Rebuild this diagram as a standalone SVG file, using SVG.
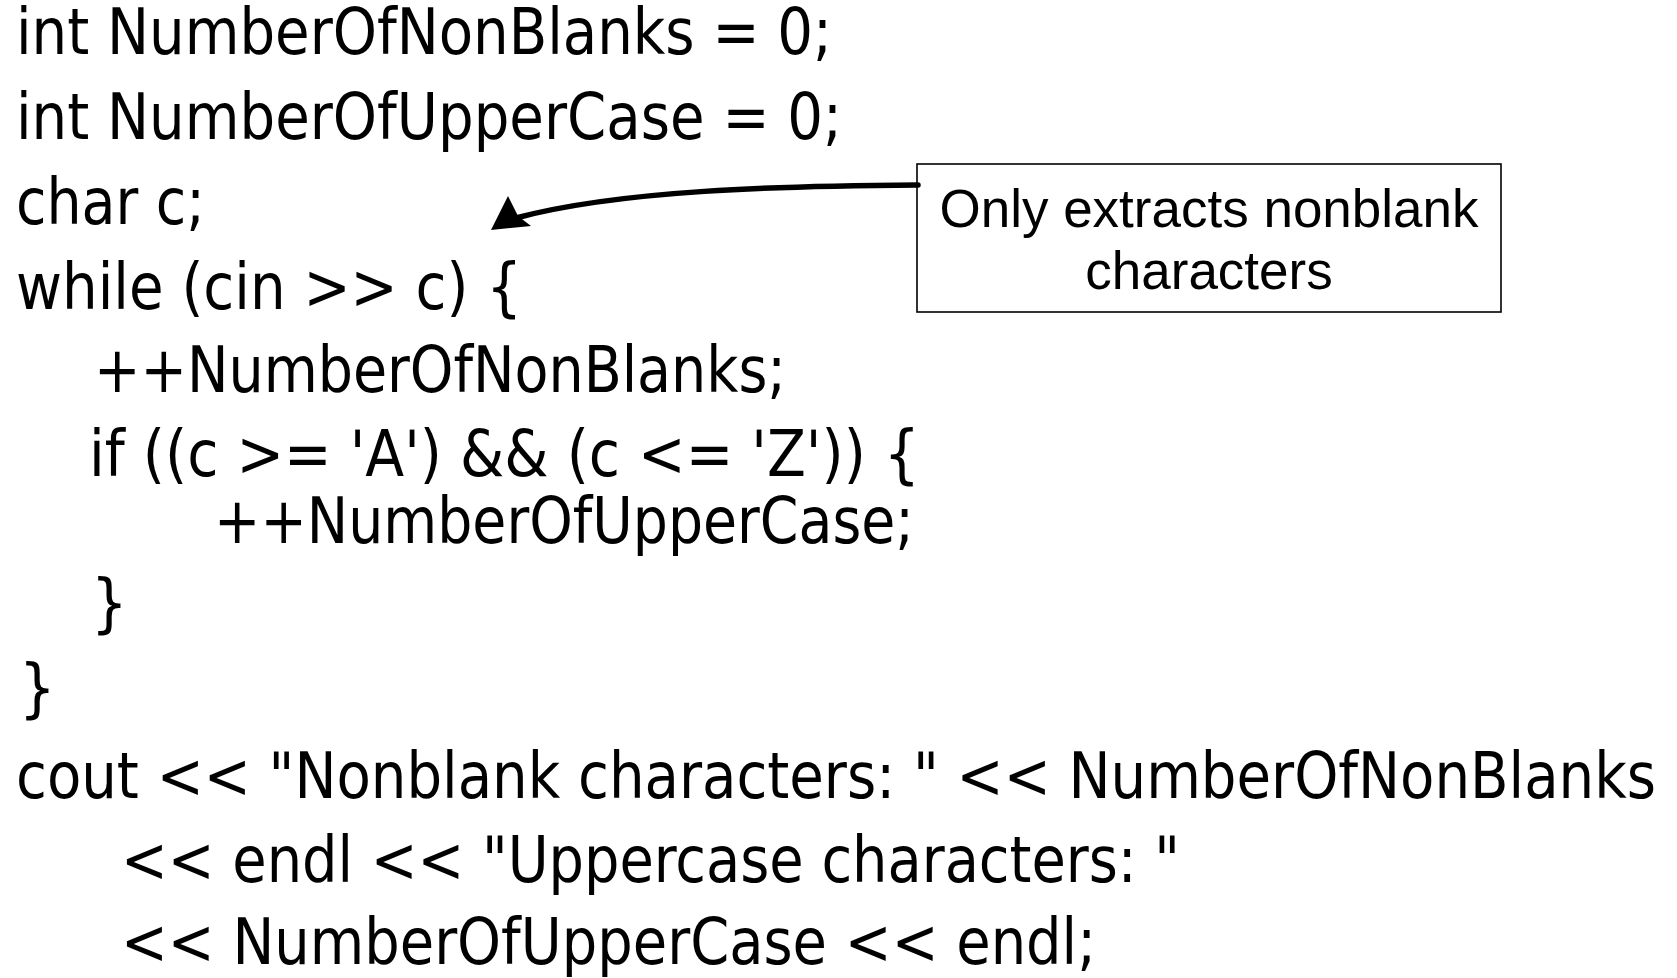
<svg xmlns="http://www.w3.org/2000/svg" width="1677" height="978" viewBox="0 0 1677 978">
<style>
.code{font-family:"DejaVu Sans Condensed","Liberation Sans",sans-serif;font-size:64px;fill:#000;}
.note{font-family:"Liberation Sans",Arial,sans-serif;font-size:53px;fill:#000;text-anchor:middle;}
.box{fill:#fff;stroke:#000;stroke-width:1.6;}
.shaft{fill:none;stroke:#000;stroke-width:5.5;stroke-linecap:round;}
</style>
<rect width="1677" height="978" fill="#fff"/>
<g id="code">
<text class="code" x="16" y="54" textLength="816" lengthAdjust="spacingAndGlyphs">int NumberOfNonBlanks = 0;</text>
<text class="code" x="16" y="139" textLength="826" lengthAdjust="spacingAndGlyphs">int NumberOfUpperCase = 0;</text>
<text class="code" x="16" y="224" textLength="189" lengthAdjust="spacingAndGlyphs">char c;</text>
<text class="code" x="16" y="309" textLength="506" lengthAdjust="spacingAndGlyphs">while (cin &gt;&gt; c) {</text>
<text class="code" x="94" y="392" textLength="692" lengthAdjust="spacingAndGlyphs">++NumberOfNonBlanks;</text>
<text class="code" x="89" y="476" textLength="831" lengthAdjust="spacingAndGlyphs">if ((c &gt;= 'A') &amp;&amp; (c &lt;= 'Z')) {</text>
<text class="code" x="214" y="543" textLength="700" lengthAdjust="spacingAndGlyphs">++NumberOfUpperCase;</text>
<text class="code" x="91" y="625">}</text>
<text class="code" x="19" y="710">}</text>
<text class="code" x="16" y="798" textLength="1640" lengthAdjust="spacingAndGlyphs">cout &lt;&lt; "Nonblank characters: " &lt;&lt; NumberOfNonBlanks</text>
<text class="code" x="121" y="882" textLength="1059" lengthAdjust="spacingAndGlyphs">&lt;&lt; endl &lt;&lt; "Uppercase characters: "</text>
<text class="code" x="121" y="964" textLength="975" lengthAdjust="spacingAndGlyphs">&lt;&lt; NumberOfUpperCase &lt;&lt; endl;</text>
</g>
<g id="note">
<rect class="box" x="917" y="164" width="584" height="148"/>
<text class="note" x="1209" y="227">Only extracts nonblank</text>
<text class="note" x="1209" y="289">characters</text>
</g>
<g id="connectors">
<path class="shaft" d="M918,185 C780,186 620,190 516,218"/>
<path d="M491,230 L508,196 L518,216 L531,226 Z" fill="#000"/>
</g>
</svg>
